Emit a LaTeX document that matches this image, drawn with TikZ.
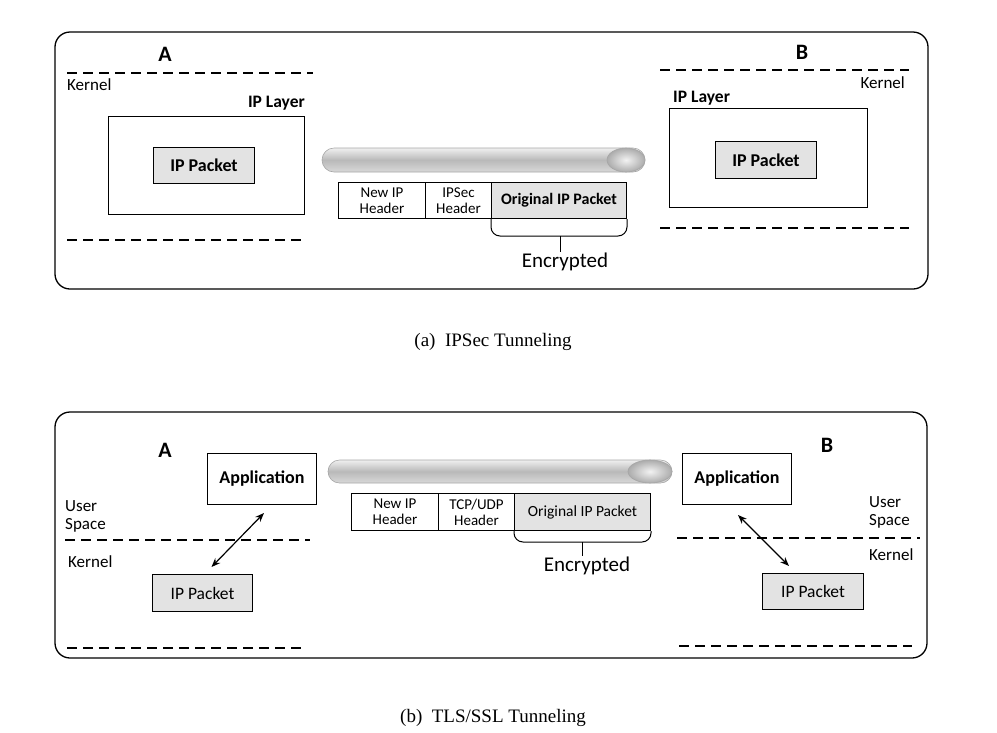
\documentclass[tikz,border=0pt]{standalone}
\usepackage{fontspec}
\setmainfont{Carlito}
\newfontfamily\capfont{Liberation Serif}
\usetikzlibrary{arrows.meta,calc}
\begin{document}
\begin{tikzpicture}[x=1pt,y=-1pt,
  panel/.style={draw, line width=1.3pt, rounded corners=15pt},
  sep/.style={line width=2.4pt, dash pattern=on 10pt off 6pt},
  layerbox/.style={draw, line width=1pt, fill=white, inner sep=0pt, anchor=north west},
  pkt/.style={draw, line width=1pt, fill=gray!22, inner sep=0pt, anchor=north west},
  field/.style={draw, line width=1pt, inner sep=0pt, anchor=north west, align=center, font=\fontsize{15}{16}\selectfont},
  lbl/.style={inner sep=0pt, font=\fontsize{17}{18}\selectfont},
  boldlbl/.style={inner sep=0pt, font=\fontsize{17.5}{18}\selectfont\bfseries},
  hostlbl/.style={inner sep=0pt, font=\fontsize{22}{23}\selectfont\bfseries},
  enclbl/.style={inner sep=1pt, font=\fontsize{21}{22}\selectfont},
  caplbl/.style={inner sep=0pt, font=\capfont\fontsize{19}{20}\selectfont},
  tube/.style={draw=gray!70, line width=0.6pt, top color=gray!12, bottom color=gray!30, middle color=gray!55},
  tubeend/.style={draw=gray!70, line width=0.6pt, inner color=gray!10, outer color=gray!65},
  brace/.style={line width=1pt, rounded corners=9pt},
  arr/.style={{Stealth[length=9pt,width=7pt]}-{Stealth[length=9pt,width=7pt]}, line width=1.2pt}
]
\useasboundingbox (0,0) rectangle (997,732);

% ================= (a) IPSec Tunneling =================
\draw[panel] (55,32) rectangle (928,289);

% host A
\node[hostlbl] (hA1) at (165,54) {A};
\draw[sep] (67,73) -- (313,73);
\node[lbl, anchor=base west] (kA1) at (67,90) {Kernel};
\node[boldlbl, anchor=base east] (lA1) at (305,107) {IP Layer};
\node[layerbox, minimum width=196pt, minimum height=98pt] (layA) at (108,116) {};
\node[pkt, minimum width=101pt, minimum height=36pt, font=\fontsize{18}{19}\selectfont\bfseries] (pA1) at (153,147) {IP Packet};
\draw[sep] (67,240) -- (305,240);

% host B
\node[hostlbl] (hB1) at (802,52) {B};
\draw[sep] (660,70) -- (909,70);
\node[lbl, anchor=base east] (kB1) at (905,88) {Kernel};
\node[boldlbl, anchor=base west] (lB1) at (673,102) {IP Layer};
\node[layerbox, minimum width=198pt, minimum height=99pt] (layB) at (669,108) {};
\node[pkt, minimum width=101pt, minimum height=37pt, font=\fontsize{18}{19}\selectfont\bfseries] (pB1) at (715,141) {IP Packet};
\draw[sep] (660,228) -- (909,228);

% tunnel
\shadedraw[tube, rounded corners=12pt] (322,148) rectangle (645,172);
\shadedraw[tubeend] (626,160) ellipse [x radius=19, y radius=12];

% packet fields
\node[field, minimum width=87pt, minimum height=36pt] (nip1) at (338,182) {New IP\\Header};
\node[field, minimum width=66pt, minimum height=36pt] (sec1) at (425,182) {IPSec\\Header};
\node[field, minimum width=135pt, minimum height=36pt, fill=gray!22, font=\fontsize{16}{17}\selectfont\bfseries] (org1) at (491,182) {Original IP Packet};

% brace
\coordinate (t1) at (560,236);
\draw[brace] (org1.south west) |- (t1) -| (org1.south east);
\node[enclbl] (enc1) at (565,262) {Encrypted};
\draw[line width=1pt] (t1) -- (t1 |- enc1.north);

\node[caplbl, anchor=base] (capA) at (493,346) {(a)\ \ IPSec Tunneling};

% ================= (b) TLS/SSL Tunneling =================
\draw[panel] (55,412) rectangle (927,658);

% host A
\node[hostlbl] (hA2) at (165,450) {A};
\node[layerbox, minimum width=109pt, minimum height=51pt, font=\fontsize{18}{19}\selectfont\bfseries] (app1) at (207,453) {Application};
\node[lbl, anchor=west, align=left] (uA2) at (65,516) {User\\Space};
\draw[sep] (65,540) -- (310,540);
\node[lbl, anchor=base west] (kA2) at (68,567) {Kernel};
\node[pkt, minimum width=100pt, minimum height=37pt, font=\fontsize{17.5}{18}\selectfont] (pA2) at (152,574) {IP Packet};
\draw[sep] (67,648) -- (302,648);
\draw[arr] ([xshift=9pt,yshift=7pt]pA2.north) -- ([xshift=2pt,yshift=-8pt]app1.south);

% host B
\node[hostlbl] (hB2) at (827,445) {B};
\node[layerbox, minimum width=109pt, minimum height=51pt, font=\fontsize{18}{19}\selectfont\bfseries] (app2) at (682,453) {Application};
\node[lbl, anchor=west, align=left] (uB2) at (869,512) {User\\Space};
\draw[sep] (677,538) -- (920,538);
\node[lbl, anchor=base west] (kB2) at (869,560) {Kernel};
\node[pkt, minimum width=101pt, minimum height=36pt, font=\fontsize{17.5}{18}\selectfont] (pB2) at (762,573) {IP Packet};
\draw[sep] (679,646) -- (912,646);
\draw[arr] ([xshift=1pt,yshift=-10pt]app2.south) -- ([xshift=-24pt,yshift=7pt]pB2.north);

% tunnel
\shadedraw[tube, rounded corners=11.5pt] (328,460) rectangle (672,483);
\shadedraw[tubeend] (650,471.5) ellipse [x radius=22, y radius=11.5];

% packet fields
\node[field, minimum width=87pt, minimum height=37pt] (nip2) at (351,493) {New IP\\Header};
\node[field, minimum width=76pt, minimum height=37pt] (tcp2) at (438,493) {TCP/UDP\\Header};
\node[field, minimum width=136pt, minimum height=37pt, fill=gray!22, font=\fontsize{15.5}{16}\selectfont] (org2) at (514,493) {Original IP Packet};

% brace
\coordinate (t2) at (582,542);
\draw[brace] (org2.south west) |- (t2) -| (org2.south east);
\node[enclbl] (enc2) at (587,566) {Encrypted};
\draw[line width=1pt] (t2) -- (t2 |- enc2.north);

\node[caplbl, anchor=base] (capB) at (493,722) {(b)\ \ TLS/SSL Tunneling};
\end{tikzpicture}
\end{document}
